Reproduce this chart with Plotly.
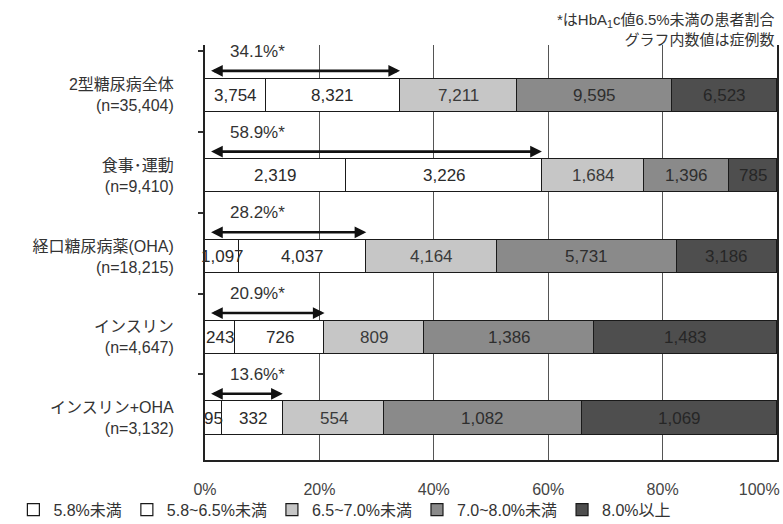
import plotly.graph_objects as go

categories = ["2型糖尿病全体<br>(n=35,404)", "食事･運動<br>(n=9,410)", "経口糖尿病薬(OHA)<br>(n=18,215)",
              "インスリン<br>(n=4,647)", "インスリン+OHA<br>(n=3,132)"]
series_names = ["5.8%未満", "5.8~6.5%未満", "6.5~7.0%未満", "7.0~8.0%未満", "8.0%以上"]
s_lt58 = [3754, 2319, 1097, 243, 95]
s_58_65 = [8321, 3226, 4037, 726, 332]
s_65_70 = [7211, 1684, 4164, 809, 554]
s_70_80 = [9595, 1396, 5731, 1386, 1082]
s_ge80 = [6523, 785, 3186, 1483, 1069]
pct_below65 = [34.1, 58.9, 28.2, 20.9, 13.6]
x_ticks = [0, 20, 40, 60, 80, 100]
x_ticktext = ["0%", "20%", "40%", "60%", "80%", "100%"]
note_text = "*はHbA<sub>1</sub>c値6.5%未満の患者割合<br>グラフ内数値は症例数"

series = [s_lt58, s_58_65, s_65_70, s_70_80, s_ge80]
colors = ["#ffffff", "#ffffff", "#c6c6c6", "#8a8a8a", "#4e4e4e"]
text_colors = ["#2a2a2a", "#2a2a2a", "#3a3a3a", "#2e2e2e", "#262626"]
FONT = "Liberation Sans, Noto Sans CJK JP, sans-serif"

totals = [sum(s[i] for s in series) for i in range(len(categories))]
ypos = list(range(len(categories)))

fig = go.Figure()
annotations = []
cum = [0.0] * len(categories)
for name, vals, col, tcol in zip(series_names, series, colors, text_colors):
    pcts = [v / t * 100 for v, t in zip(vals, totals)]
    fig.add_trace(go.Bar(
        y=ypos, x=pcts, orientation="h", name=name, width=0.41,
        marker=dict(color=col, line=dict(color="#1a1a1a", width=1.2)),
        hoverinfo="skip",
    ))
    for i, (v, p) in enumerate(zip(vals, pcts)):
        annotations.append(dict(x=cum[i] + p / 2, y=i, xref="x", yref="y", text=f"{v:,}",
                                showarrow=False, xanchor="center", yanchor="middle",
                                font=dict(size=17, color=tcol, family=FONT)))
        cum[i] += p

for i, p in enumerate(pct_below65):
    annotations.append(dict(x=p, y=i - 0.3, ax=0.8, ay=i - 0.3, xref="x", yref="y",
                            axref="x", ayref="y", text="", showarrow=True,
                            arrowhead=2, startarrowhead=2, arrowside="end+start",
                            arrowsize=0.9, startarrowsize=0.9, arrowwidth=2.6, arrowcolor="#111"))
    annotations.append(dict(x=4, y=i - 0.54, xref="x", yref="y", text=f"{p}%*",
                            showarrow=False, xanchor="left", yanchor="middle",
                            font=dict(size=17, color="#333", family=FONT)))
annotations.append(dict(x=1, y=1.087, xref="paper", yref="paper", text=note_text,
                        showarrow=False, xanchor="right", yanchor="top", align="right",
                        font=dict(size=15, color="#333", family=FONT)))

ticktext = list(x_ticktext)
ticktext[-1] = ticktext[-1] + "\u00a0" * 8

fig.update_layout(
    width=783, height=524, margin=dict(l=205, r=6, t=45, b=64, autoexpand=False),
    paper_bgcolor="white", plot_bgcolor="white",
    barmode="stack", bargap=0,
    font=dict(family=FONT, color="#333"),
    annotations=annotations,
    showlegend=True,
    legend=dict(orientation="h", xref="paper", yref="paper", x=-0.335, y=-0.12,
                xanchor="left", yanchor="middle", font=dict(size=16, color="#333", family=FONT),
                itemwidth=30, traceorder="normal", bgcolor="rgba(0,0,0,0)"),
    xaxis=dict(range=[0, 100], tickvals=x_ticks, ticktext=ticktext, showgrid=True,
               gridcolor="#555", gridwidth=1, zeroline=False, showline=True, linecolor="#222",
               linewidth=2, ticks="", ticklabelstandoff=14, ticklabeloverflow="allow",
               automargin=False,
               tickfont=dict(size=16, color="#444", family=FONT), fixedrange=True),
    yaxis=dict(range=[4.52, -0.62], tickvals=ypos, ticktext=categories, showgrid=False,
               zeroline=False, showline=True, mirror=True, linecolor="#222", linewidth=2,
               ticks="", ticklabelstandoff=26, automargin=False,
               tickfont=dict(size=16, color="#333", family=FONT),
               minor=dict(tickvals=[i - 0.54 for i in ypos], ticks="outside", ticklen=5,
                          tickcolor="#333", tickwidth=1.5),
               fixedrange=True),
)

fig.write_html("out.html")
